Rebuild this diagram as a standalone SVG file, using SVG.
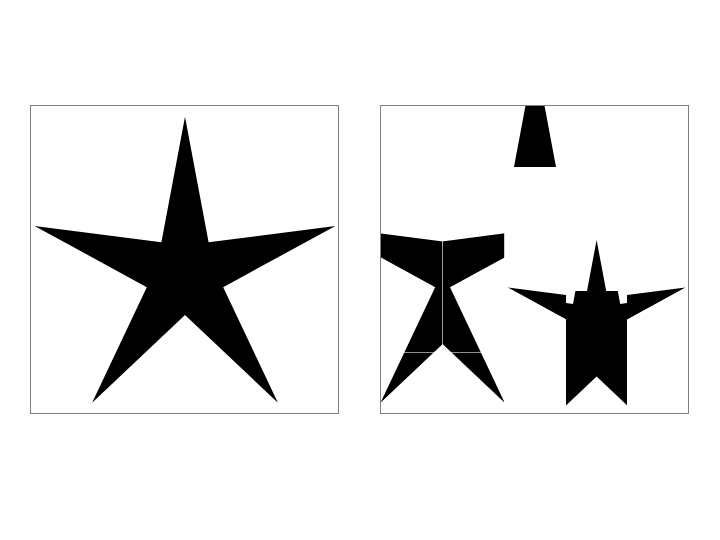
<svg xmlns="http://www.w3.org/2000/svg" xmlns:xlink="http://www.w3.org/1999/xlink" width="720" height="540" viewBox="0 0 720 540">
<style>
.frame{fill:none;stroke:#808080;stroke-width:1}
.star{fill:#000;stroke:none}
</style>
<defs>
<polygon id="star" class="star" points="185,116.7 208.6,242.3 335.4,225.9 223.2,287.2 277.9,402.7 185,315 92.1,402.7 146.8,287.2 34.6,225.9 161.4,242.3"/>
<clipPath id="cA"><rect x="381" y="106" width="61.3" height="246.2"/></clipPath>
<clipPath id="cB"><rect x="381" y="352.7" width="61.3" height="61.3"/></clipPath>
<clipPath id="cC"><rect x="442.9" y="106" width="61.3" height="246.2"/></clipPath>
<clipPath id="cD"><rect x="442.9" y="352.7" width="61.3" height="61.3"/></clipPath>
<clipPath id="cE"><rect x="504.2" y="106" width="61.6" height="61"/></clipPath>
<clipPath id="cF"><rect x="504.2" y="229" width="61.8" height="123.4"/></clipPath>
<clipPath id="cH"><rect x="566" y="229" width="61" height="62"/></clipPath>
<clipPath id="cI"><rect x="566" y="291" width="61" height="123"/></clipPath>
<clipPath id="cK"><rect x="627" y="229" width="62" height="123.4"/></clipPath>
</defs>
<g id="original-star">
<use xlink:href="#star" href="#star"/>
</g>
<g id="tiles">
<g id="tile-a" clip-path="url(#cA)"><use xlink:href="#star" href="#star" transform="translate(288.4,0)"/></g>
<g id="tile-b" clip-path="url(#cB)"><use xlink:href="#star" href="#star" transform="translate(288.4,0)"/></g>
<g id="tile-c" clip-path="url(#cC)"><use xlink:href="#star" href="#star" transform="translate(226.8,0)"/></g>
<g id="tile-d" clip-path="url(#cD)"><use xlink:href="#star" href="#star" transform="translate(226.8,0)"/></g>
<g id="tile-e" clip-path="url(#cE)"><use xlink:href="#star" href="#star" transform="translate(350,-61.6)"/></g>
<g id="tile-f" clip-path="url(#cF)"><use xlink:href="#star" href="#star" transform="translate(473.2,61.6)"/></g>
<g id="tile-h" clip-path="url(#cH)"><use xlink:href="#star" href="#star" transform="translate(411.6,123.2)"/></g>
<g id="tile-i" clip-path="url(#cI)"><use xlink:href="#star" href="#star" transform="translate(411.6,61.6)"/></g>
<g id="tile-k" clip-path="url(#cK)"><use xlink:href="#star" href="#star" transform="translate(350,61.6)"/></g>
</g>
<g id="frames">
<rect id="frame-left" class="frame" x="30.5" y="105.5" width="308" height="308"/>
<rect id="frame-right" class="frame" x="380.5" y="105.5" width="308" height="308"/>
</g>
</svg>
